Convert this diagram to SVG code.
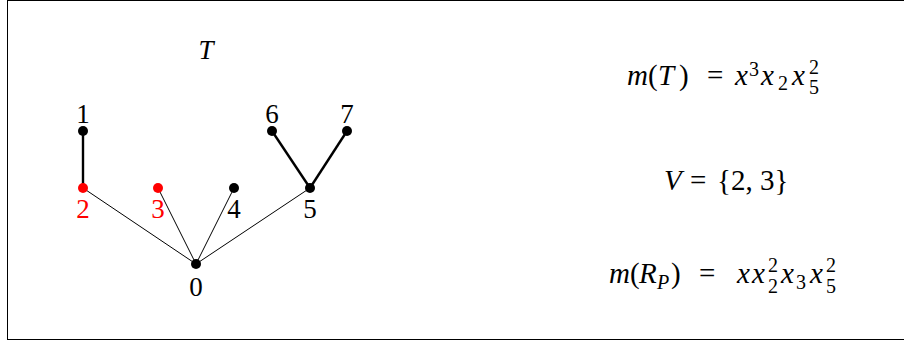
<svg xmlns="http://www.w3.org/2000/svg" width="904" height="344" viewBox="0 0 904 344">
<style>
text{font-family:"Liberation Serif","DejaVu Serif",serif;font-size:27px;fill:#000}
.lbl{text-anchor:middle}
.red{fill:#ff0000}
.f{font-size:29px}
.i{font-style:italic}
.s{font-size:20px}
.thin{stroke:#000;stroke-width:1;fill:none}
.thick{stroke:#000;stroke-width:2.4;fill:none}
</style>
<rect x="7.5" y="0.5" width="900" height="339" fill="#fff" stroke="#000" stroke-width="1"/>
<text x="206" y="59" class="lbl i">T</text>
<g id="edges">
<line class="thick" x1="83" y1="131" x2="83" y2="188"/>
<line class="thick" x1="272" y1="131" x2="310" y2="188"/>
<line class="thick" x1="347" y1="131" x2="310" y2="188"/>
<line class="thin" x1="83" y1="188" x2="196" y2="264"/>
<line class="thin" x1="158" y1="188" x2="196" y2="264"/>
<line class="thin" x1="234" y1="188" x2="196" y2="264"/>
<line class="thin" x1="310" y1="188" x2="196" y2="264"/>
</g>
<g id="n0"><circle cx="196" cy="264" r="5"/><text x="196" y="296" class="lbl">0</text></g>
<g id="n1"><circle cx="83" cy="131" r="5"/><text x="83" y="123" class="lbl">1</text></g>
<g id="n2"><circle cx="83" cy="188" r="5" fill="#ff0000"/><text x="83" y="218" class="lbl red">2</text></g>
<g id="n3"><circle cx="158" cy="188" r="5" fill="#ff0000"/><text x="158" y="218" class="lbl red">3</text></g>
<g id="n4"><circle cx="234" cy="188" r="5"/><text x="234" y="218" class="lbl">4</text></g>
<g id="n5"><circle cx="310" cy="188" r="5"/><text x="310" y="218" class="lbl">5</text></g>
<g id="n6"><circle cx="272" cy="131" r="5"/><text x="272" y="123" class="lbl">6</text></g>
<g id="n7"><circle cx="347" cy="131" r="5"/><text x="347" y="123" class="lbl">7</text></g>
<g id="formula-mT">
<text x="627" y="85" class="f i">m</text>
<text x="648" y="85" class="f">(</text>
<text x="658" y="85" class="f i">T</text>
<text x="679" y="85" class="f">)</text>
<text x="707" y="85" class="f">=</text>
<text x="735" y="85" class="f i">x</text>
<text x="749" y="76" class="s">3</text>
<text x="761" y="85" class="f i">x</text>
<text x="778" y="90" class="s">2</text>
<text x="792" y="85" class="f i">x</text>
<text x="809" y="74" class="s">2</text>
<text x="809" y="94" class="s">5</text>
</g>
<g id="formula-V">
<text x="664" y="190" class="f i">V</text>
<text x="690" y="190" class="f">=</text>
<text x="717" y="190" class="f">{2, 3}</text>
</g>
<g id="formula-mRP">
<text x="609" y="283" class="f i">m</text>
<text x="630" y="283" class="f">(</text>
<text x="639" y="283" class="f i">R</text>
<text x="657" y="289" class="s i">P</text>
<text x="671" y="283" class="f">)</text>
<text x="699" y="283" class="f">=</text>
<text x="737" y="283" class="f i">x</text>
<text x="752" y="283" class="f i">x</text>
<text x="768" y="272" class="s">2</text>
<text x="768" y="293" class="s">2</text>
<text x="781" y="283" class="f i">x</text>
<text x="796" y="289" class="s">3</text>
<text x="810" y="283" class="f i">x</text>
<text x="826" y="272" class="s">2</text>
<text x="826" y="293" class="s">5</text>
</g>
</svg>
